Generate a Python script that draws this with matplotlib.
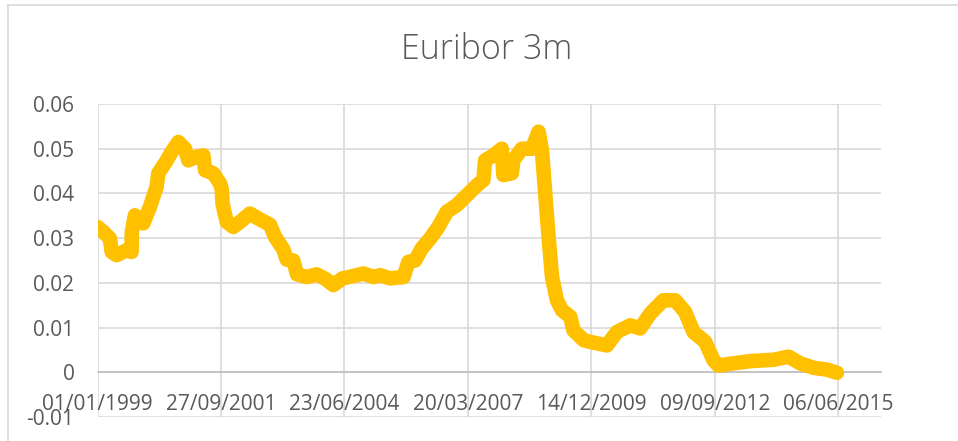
import matplotlib
matplotlib.use("Agg")
import matplotlib.pyplot as plt
from matplotlib.lines import Line2D
import pandas as pd

title = "Euribor 3m"

dates = [
    "1999-01-01", "1999-02-17", "1999-04-12", "1999-04-26", "1999-06-05", "1999-08-25",
    "1999-10-04", "1999-10-06", "1999-10-31", "2000-01-07", "2000-03-01", "2000-04-24",
    "2000-05-08", "2000-07-15", "2000-08-24", "2000-10-17", "2000-12-10", "2001-01-06",
    "2001-03-15", "2001-05-08", "2001-05-21", "2001-07-27", "2001-09-20", "2001-10-03",
    "2001-10-10", "2001-11-13", "2002-01-05", "2002-02-28", "2002-05-20", "2002-07-26",
    "2002-10-29", "2002-12-09", "2003-02-14", "2003-03-14", "2003-05-06", "2003-06-05",
    "2003-08-23", "2003-11-12", "2004-01-26", "2004-03-25", "2004-06-08", "2004-10-01",
    "2004-11-24", "2005-02-13", "2005-04-09", "2005-06-29", "2005-10-15", "2005-11-24",
    "2006-01-17", "2006-03-12", "2006-05-18", "2006-07-24", "2006-10-01", "2006-12-21",
    "2007-03-12", "2007-06-01", "2007-07-24", "2007-08-07", "2007-10-13", "2007-12-20",
    "2008-01-02", "2008-03-10", "2008-03-23", "2008-05-31", "2008-08-20", "2008-10-13",
    "2008-11-09", "2008-12-06", "2009-01-02", "2009-01-30", "2009-03-11", "2009-04-20",
    "2009-06-27", "2009-07-23", "2009-10-12", "2009-12-05", "2010-04-20", "2010-07-09",
    "2010-10-25", "2011-01-14", "2011-04-05", "2011-07-21", "2011-10-24", "2012-01-13",
    "2012-03-21", "2012-06-24", "2012-08-30", "2012-10-10", "2012-12-17", "2013-06-24",
    "2013-12-30", "2014-04-30", "2014-08-03", "2014-11-18", "2015-03-07", "2015-05-27",
]
values = [
    0.0325, 0.0314, 0.0299, 0.0269, 0.0262, 0.0273,
    0.0269, 0.0314, 0.0351, 0.0333, 0.0370, 0.0415,
    0.0445, 0.0474, 0.0493, 0.0515, 0.0500, 0.0474,
    0.0482, 0.0485, 0.0452, 0.0445, 0.0422, 0.0410,
    0.0377, 0.0336, 0.0325, 0.0336, 0.0355, 0.0344,
    0.0330, 0.0303, 0.0275, 0.0252, 0.0250, 0.0219,
    0.0213, 0.0219, 0.0208, 0.0195, 0.0210, 0.0217,
    0.0221, 0.0213, 0.0217, 0.0210, 0.0213, 0.0247,
    0.0250, 0.0277, 0.0299, 0.0325, 0.0359, 0.0374,
    0.0396, 0.0418, 0.0430, 0.0474, 0.0485, 0.0500,
    0.0441, 0.0445, 0.0474, 0.0500, 0.0500, 0.0538,
    0.0497, 0.0400, 0.0303, 0.0213, 0.0161, 0.0139,
    0.0124, 0.0094, 0.0072, 0.0068, 0.0060, 0.0090,
    0.0105, 0.0098, 0.0131, 0.0161, 0.0161, 0.0135,
    0.0090, 0.0068, 0.0027, 0.0015, 0.0018, 0.0025,
    0.0028, 0.0035, 0.0020, 0.0010, 0.0006, -0.0001,
]

tick_dates = ["1999-01-01", "2001-09-27", "2004-06-23", "2007-03-20",
              "2009-12-14", "2012-09-09", "2015-06-06"]
tick_labels = ["01/01/1999", "27/09/2001", "23/06/2004", "20/03/2007",
               "14/12/2009", "09/09/2012", "06/06/2015"]
y_ticks = [-0.01, 0.0, 0.01, 0.02, 0.03, 0.04, 0.05, 0.06]
y_labels = ["-0.01", "0", "0.01", "0.02", "0.03", "0.04", "0.05", "0.06"]

plt.rcParams['font.family'] = ['Open Sans', 'DejaVu Sans']

fig = plt.figure(figsize=(9.58, 4.41), dpi=100)
ax = fig.add_axes([97.5 / 958, 1 - 417 / 441, (881 - 97.5) / 958, (417 - 104) / 441])

x = pd.to_datetime(dates)
line_color = "#FFC000"
ax.plot(x, values, color=line_color, lw=10.5, solid_capstyle="round",
        solid_joinstyle="round", zorder=3)

xmin = pd.Timestamp("1999-01-01")
xmax = xmin + pd.Timedelta(days=6347)
ax.set_xlim(xmin, xmax)
ax.set_ylim(-0.01, 0.06)

grid_color = "#D9D9D9"
text_color = "#595959"
ax.set_xticks(pd.to_datetime(tick_dates))
ax.set_xticklabels(tick_labels)
ax.set_yticks(y_ticks)
ax.set_yticklabels(y_labels)
ax.grid(True, color=grid_color, lw=1.2, zorder=0)
ax.set_axisbelow(True)

for s in ["top", "right", "left"]:
    ax.spines[s].set_visible(False)
ax.spines["bottom"].set_position(("data", 0))
ax.spines["bottom"].set_color("#BFBFBF")
ax.spines["bottom"].set_linewidth(1.2)
ax.spines["bottom"].set_zorder(1)

ax.tick_params(axis="x", length=0, pad=15.5, labelsize=15, labelcolor=text_color)
ax.tick_params(axis="y", length=0, pad=16.6, labelsize=15, labelcolor=text_color)

fig.text(487 / 958, 1 - 50 / 441, title, ha="center", va="center", fontsize=24.5,
         color=text_color, fontweight="light")

# chart area border (top and left edges visible)
fig.add_artist(Line2D([7.5 / 958, 7.5 / 958], [0, 1 - 5 / 441], color=grid_color,
                      lw=1.2, transform=fig.transFigure))
fig.add_artist(Line2D([7.5 / 958, 1], [1 - 5 / 441, 1 - 5 / 441], color=grid_color,
                      lw=1.2, transform=fig.transFigure))

fig.savefig("out.png", dpi=100)
